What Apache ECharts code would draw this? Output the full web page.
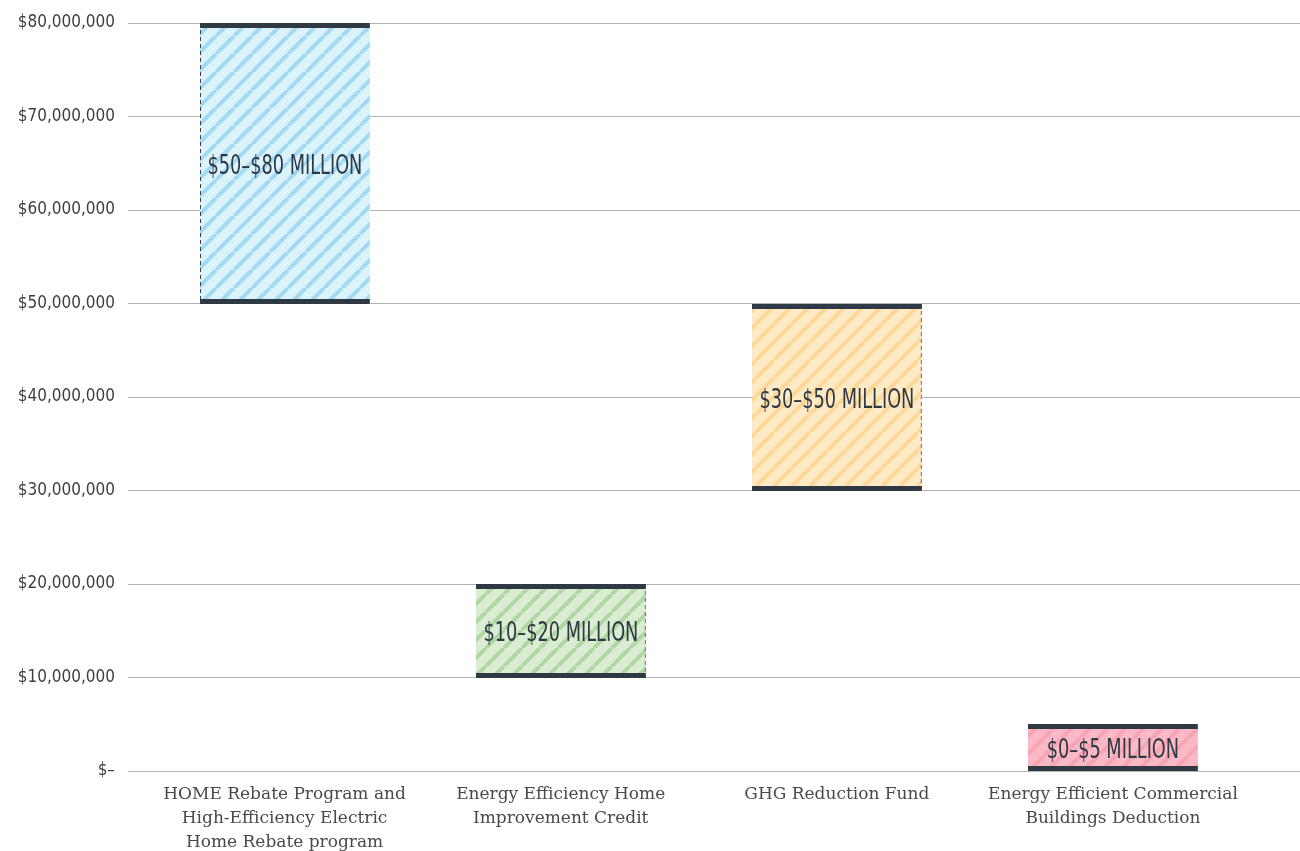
<!DOCTYPE html>
<html><head><meta charset="utf-8">
<script src="https://cdn.jsdelivr.net/npm/echarts@6/dist/echarts.min.js"></script>
<style>html,body{margin:0;padding:0;background:#fff}#c{width:1300px;height:851px}</style>
</head><body><div id="c"></div>
<script>
const categories = [
  'HOME Rebate Program and\nHigh-Efficiency Electric\nHome Rebate program',
  'Energy Efficiency Home\nImprovement Credit',
  'GHG Reduction Fund',
  'Energy Efficient Commercial\nBuildings Deduction'
];
const lowValues = [50000000, 10000000, 30000000, 0];
const highValues = [80000000, 20000000, 50000000, 5000000];
const rangeLabels = ['$50–$80 MILLION', '$10–$20 MILLION', '$30–$50 MILLION', '$0–$5 MILLION'];
const yMin = 0, yMax = 80000000, yStep = 10000000;

const fills = [
  {bg:'#dbf4fc', stripe:'#a2d9f2', dashLeft:true, dashRight:false},
  {bg:'#daedd2', stripe:'#aed8a2', dashLeft:false, dashRight:true},
  {bg:'#feebc6', stripe:'#fdd796', dashLeft:false, dashRight:true},
  {bg:'#fbb8c5', stripe:'#f7a4b5', dashLeft:false, dashRight:false}
];
function makePattern(bg, stripe){
  const s = 18;
  const cv = document.createElement('canvas');
  cv.width = s; cv.height = s;
  const ctx = cv.getContext('2d');
  ctx.fillStyle = bg; ctx.fillRect(0,0,s,s);
  ctx.strokeStyle = stripe; ctx.lineWidth = 4;
  [0, s, 2*s].forEach(c => { ctx.beginPath(); ctx.moveTo(c, 0); ctx.lineTo(c - s, s); ctx.stroke(); });
  return {image: cv, repeat: 'repeat'};
}
const patterns = fills.map(f => makePattern(f.bg, f.stripe));
const data = categories.map((c, i) => [i, lowValues[i], highValues[i]]);
const dark = '#2f3943';
const condensed = '"DejaVu Sans Condensed","Liberation Sans Narrow",sans-serif';

const chart = echarts.init(document.getElementById('c'));
chart.setOption({
  animation: false,
  grid: [
    {left: 128, right: 0, top: 23, bottom: 80, outerBoundsMode: 'none', containLabel: false},
    {left: 146.5, right: 49, top: 23, bottom: 80, outerBoundsMode: 'none', containLabel: false}
  ],
  xAxis: [
    {gridIndex: 0, type: 'category', data: categories, show: false},
    {gridIndex: 1, type: 'category', data: categories,
     axisLine: {show: false}, axisTick: {show: false},
     axisLabel: {margin: 12, lineHeight: 24, fontSize: 17, color: '#454a50',
       fontFamily: '"DejaVu Serif",serif', interval: 0}}
  ],
  yAxis: [
    {gridIndex: 0, type: 'value', min: yMin, max: yMax, interval: yStep,
     axisLine: {show: false}, axisTick: {show: false},
     splitLine: {lineStyle: {color: '#b3b3b3', width: 1}},
     axisLabel: {margin: 13, fontSize: 17, color: '#3a3f45', fontFamily: condensed,
       formatter: v => v === 0 ? '$–' : '$' + v.toLocaleString('en-US')}},
    {gridIndex: 1, type: 'value', min: yMin, max: yMax, interval: yStep, show: false}
  ],
  series: [{
    type: 'custom', xAxisIndex: 1, yAxisIndex: 1,
    data: data,
    renderItem: function(params, api){
      const i = api.value(0);
      const lo = api.coord([i, api.value(1)]);
      const hi = api.coord([i, api.value(2)]);
      const bw = api.size([1, 0])[0] * 0.615;
      const x = Math.round(lo[0] - bw/2);
      const yT = Math.round(hi[1]), yB = Math.round(lo[1]);
      const h = yB - yT;
      const f = fills[i];
      const children = [
        {type: 'rect', shape: {x: x, y: yT, width: bw, height: h}, style: {fill: patterns[i]}}
      ];
      if (f.dashLeft) children.push({type: 'line', shape: {x1: x+0.5, y1: yT, x2: x+0.5, y2: yB},
        style: {stroke: '#3b4046', lineWidth: 1, lineDash: [4, 3]}});
      if (f.dashRight) children.push({type: 'line', shape: {x1: x+bw-0.5, y1: yT, x2: x+bw-0.5, y2: yB},
        style: {stroke: '#6d7278', lineWidth: 1, lineDash: [4, 3]}});
      children.push({type: 'rect', shape: {x: x, y: yT, width: bw, height: 5}, style: {fill: dark}});
      children.push({type: 'rect', shape: {x: x, y: yB - 5, width: bw, height: 5}, style: {fill: dark}});
      children.push({type: 'text', x: x + bw/2, y: (yT + yB)/2 + 3, scaleX: 0.73,
        style: {text: rangeLabels[i], x: 0, y: 0,
        align: 'center', verticalAlign: 'middle', fill: '#2f3943', fontSize: 27, fontFamily: condensed}});
      return {type: 'group', children: children};
    }
  }]
});
</script></body></html>
